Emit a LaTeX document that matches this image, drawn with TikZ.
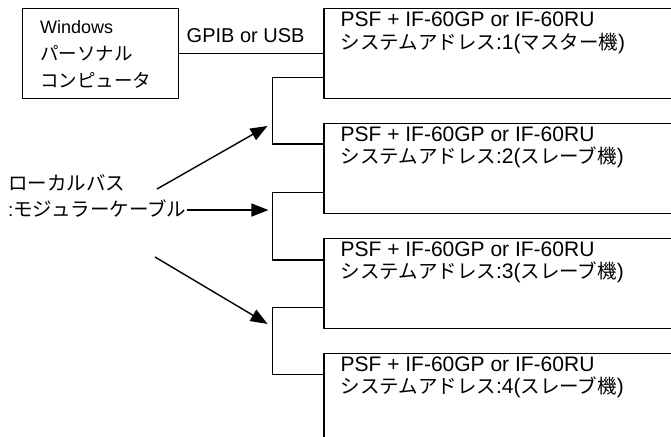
\documentclass[tikz,border=0pt]{standalone}
\usepackage{fontspec}
\setmainfont{Liberation Sans}
\newfontfamily\jpfont{Noto Sans CJK JP}
\usetikzlibrary{arrows.meta,positioning}

\newcommand{\jptext}[1]{{\jpfont\fontsize{19.5}{22}\selectfont #1}}

\begin{document}
\begin{tikzpicture}[x=1pt, y=-1pt, node distance=23.5pt, >={Triangle[length=17pt, width=13pt]},
    pcbox/.style={rectangle, draw=black, line width=1.4pt, minimum width=156pt, minimum height=90pt, anchor=north west, inner sep=0pt},
    psfbox/.style={pcbox, minimum width=420pt},
    boxtext/.style={anchor=base west, align=left, inner sep=0pt},
    bus/.style={draw=black, line width=1.4pt},
    line/.style={draw=black, line width=1.4pt, ->, shorten >=4pt}]

    \useasboundingbox (0,0) rectangle (671,436);
    \clip (0,0) rectangle (671,436);

    % PC and the four PSF units
    \node [pcbox] (pc) at (22,8) {};
    \node [psfbox, right=144pt of pc] (psf1) {};
    \node [psfbox, below=of psf1] (psf2) {};
    \node [psfbox, below=of psf2] (psf3) {};
    \node [psfbox, below=of psf3] (psf4) {};

    % base west of a multi-line node = baseline of its last line
    \node [boxtext, font=\fontsize{18}{27}\selectfont] (pctext) at ([xshift=18pt, yshift=-79pt]pc.north west)
        {Windows\\{\jpfont\fontsize{18.5}{27}\selectfont パーソナル}\\{\jpfont\fontsize{18.5}{27}\selectfont コンピュータ}};
    \node [boxtext, font=\fontsize{21}{22}\selectfont] (psf1text) at ([xshift=17pt, yshift=-41pt]psf1.north west)
        {PSF + IF-60GP or IF-60RU\\\jptext{システムアドレス}:1(\jptext{マスター機})};
    \node [boxtext, font=\fontsize{21}{22}\selectfont] (psf2text) at ([xshift=17pt, yshift=-41pt]psf2.north west)
        {PSF + IF-60GP or IF-60RU\\\jptext{システムアドレス}:2(\jptext{スレーブ機})};
    \node [boxtext, font=\fontsize{21}{22}\selectfont] (psf3text) at ([xshift=17pt, yshift=-41pt]psf3.north west)
        {PSF + IF-60GP or IF-60RU\\\jptext{システムアドレス}:3(\jptext{スレーブ機})};
    \node [boxtext, font=\fontsize{21}{22}\selectfont] (psf4text) at ([xshift=17pt, yshift=-41pt]psf4.north west)
        {PSF + IF-60GP or IF-60RU\\\jptext{システムアドレス}:4(\jptext{スレーブ機})};

    % local bus label
    \node [boxtext, font=\fontsize{19}{22}\selectfont] (lbl1) at (8,190) {\jptext{ローカルバス}};
    \node [boxtext, font=\fontsize{19}{22}\selectfont] (lbl2) at (8,216) {:\jptext{モジュラーケーブル}};

    \path [bus] (pc) -- node [pos=0.46, above=7pt, font=\fontsize{20}{22}\selectfont] (gpib) {GPIB or USB} (psf1);

    \path [bus] ([yshift=22pt]psf1.south west) -- ++(-51,0) coordinate (bus1) |- ([yshift=-21pt]psf2.north west);
    \path [bus] ([yshift=22pt]psf2.south west) -- ++(-51,0) coordinate (bus2) |- ([yshift=-22pt]psf3.north west);
    \path [bus] ([yshift=22pt]psf3.south west) -- ++(-51,0) coordinate (bus3) |- ([yshift=-22pt]psf4.north west);

    \coordinate (from1) at (157,189);
    \coordinate (from3) at (155,257);
    \coordinate (tap1) at (271,124);
    \coordinate (tap3) at (271,326);

    \path [line] (from1) -- (tap1);
    \path [line] ([yshift=-2pt]lbl2.east) -- ([yshift=-2pt]lbl2.east -| bus2);
    \path [line] (from3) -- (tap3);
\end{tikzpicture}
\end{document}
